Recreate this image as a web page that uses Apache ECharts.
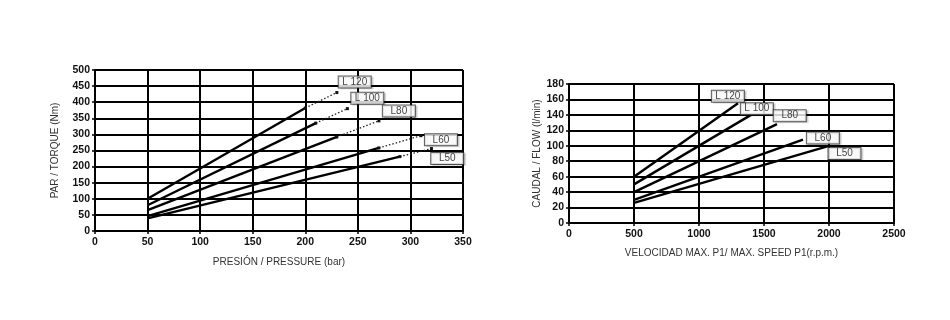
<!DOCTYPE html>
<html><head><meta charset="utf-8">
<script src="https://cdn.jsdelivr.net/npm/echarts@6/dist/echarts.min.js"></script>
<style>html,body{margin:0;padding:0;background:#fff}#c{width:950px;height:320px}</style>
</head><body><div id="c"></div>
<script>
// ---- Left chart: torque vs pressure ----
const models = ['L120', 'L100', 'L80', 'L60', 'L50'];
const labelText = ['L 120', 'L 100', 'L80', 'L60', 'L50'];
// solid segments [pressure, torque]
const torqueSolid = [
  [[50, 100], [200, 382]],
  [[50, 80], [210, 335]],
  [[50, 65], [230, 292]],
  [[50, 46], [270, 258]],
  [[50, 39], [290, 231]]
];
// dotted extensions
const torqueDotted = [
  [[200, 382], [230, 430]],
  [[210, 335], [240, 380]],
  [[230, 292], [270, 342]],
  [[270, 258], [310, 296]],
  [[290, 231], [320, 256]]
];
const torqueLabelAt = [[247, 463], [259, 412], [289, 373], [329, 283], [335, 225]];
const pressureTicks = { min: 0, max: 350, interval: 50 };
const torqueTicks = { min: 0, max: 500, interval: 50 };

// ---- Right chart: flow vs speed ----
const flowLines = [
  [[500, 60], [1300, 155]],
  [[500, 50], [1400, 140]],
  [[500, 40], [1600, 128]],
  [[500, 30], [1800, 108]],
  [[500, 26], [2000, 100]]
];
const flowLabelAt = [[1222, 164], [1445, 148], [1698, 139], [1953, 110], [2119, 90]];
const speedTicks = { min: 0, max: 2500, interval: 500 };
const flowTicks = { min: 0, max: 180, interval: 20 };

const chart = echarts.init(document.getElementById('c'), null, { renderer: 'canvas' });
const FONT = 'Liberation Sans, Arial, sans-serif';

function axisCommon(name, gap, ticks, isY) {
  return {
    type: 'value', min: ticks.min, max: ticks.max, interval: ticks.interval,
    name: name, nameLocation: 'middle', nameGap: gap,
    nameTextStyle: { fontFamily: FONT, fontSize: 10, color: '#333' },
    axisLine: { show: true, onZero: false, lineStyle: { color: '#000', width: 2 } },
    axisTick: { show: true, length: 3, lineStyle: { color: '#000', width: 1.5 } },
    axisLabel: { fontFamily: FONT, fontSize: 10.5, fontWeight: 'bold', color: '#111', margin: isY ? 5 : 6,
      formatter: v => String(v) },
    splitLine: { show: true, lineStyle: { color: '#000', width: 2 } }
  };
}

const labelStyle = {
  show: true, position: 'inside', fontFamily: FONT, fontSize: 10, color: '#111',
  backgroundColor: '#fff', borderColor: '#333', borderWidth: 1,
  padding: [1, 5, 0, 5], width: 22, height: 10, align: 'center', lineHeight: 10,
  shadowColor: 'rgba(0,0,0,0.15)', shadowOffsetX: 2, shadowOffsetY: 1, shadowBlur: 0
};

const series = [];
models.forEach((m, i) => {
  series.push({
    type: 'line', xAxisIndex: 0, yAxisIndex: 0, data: torqueSolid[i],
    symbol: 'none', lineStyle: { color: '#000', width: 2.4 }, z: 5, silent: true
  });
  series.push({
    type: 'line', xAxisIndex: 0, yAxisIndex: 0, data: torqueDotted[i],
    symbol: 'rect', symbolSize: 3, showSymbol: true,
    itemStyle: { color: '#111' },
    lineStyle: { color: '#222', width: 1.3, type: [1.5, 2] }, z: 5, silent: true
  });
  series.push({
    type: 'line', xAxisIndex: 1, yAxisIndex: 1, data: flowLines[i],
    symbol: 'none', lineStyle: { color: '#000', width: 2.4 }, z: 5, silent: true
  });
});
series.push({
  type: 'scatter', xAxisIndex: 0, yAxisIndex: 0, symbolSize: 1, itemStyle: { color: 'transparent' },
  data: torqueLabelAt.map((p, i) => ({ value: p, label: Object.assign({}, labelStyle, { formatter: labelText[i] }) })),
  z: 10, silent: true
});
series.push({
  type: 'scatter', xAxisIndex: 1, yAxisIndex: 1, symbolSize: 1, itemStyle: { color: 'transparent' },
  data: flowLabelAt.map((p, i) => ({ value: p, label: Object.assign({}, labelStyle, { formatter: labelText[i] }) })),
  z: 10, silent: true
});

chart.setOption({
  animation: false,
  backgroundColor: '#fff',
  grid: [
    { left: 95, right: 487, top: 70, bottom: 89 },
    { left: 569, right: 56, top: 84, bottom: 97 }
  ],
  xAxis: [
    Object.assign(axisCommon('PRESIÓN / PRESSURE (bar)', 26, pressureTicks, false), { gridIndex: 0 }),
    Object.assign(axisCommon('VELOCIDAD MAX. P1/ MAX. SPEED P1(r.p.m.)', 25, speedTicks, false), { gridIndex: 1 })
  ],
  yAxis: [
    Object.assign(axisCommon('PAR / TORQUE (Nm)', 35, torqueTicks, true), { gridIndex: 0 }),
    Object.assign(axisCommon('CAUDAL / FLOW (l/min)', 27, flowTicks, true), { gridIndex: 1 })
  ],
  series: series
});
</script></body></html>
